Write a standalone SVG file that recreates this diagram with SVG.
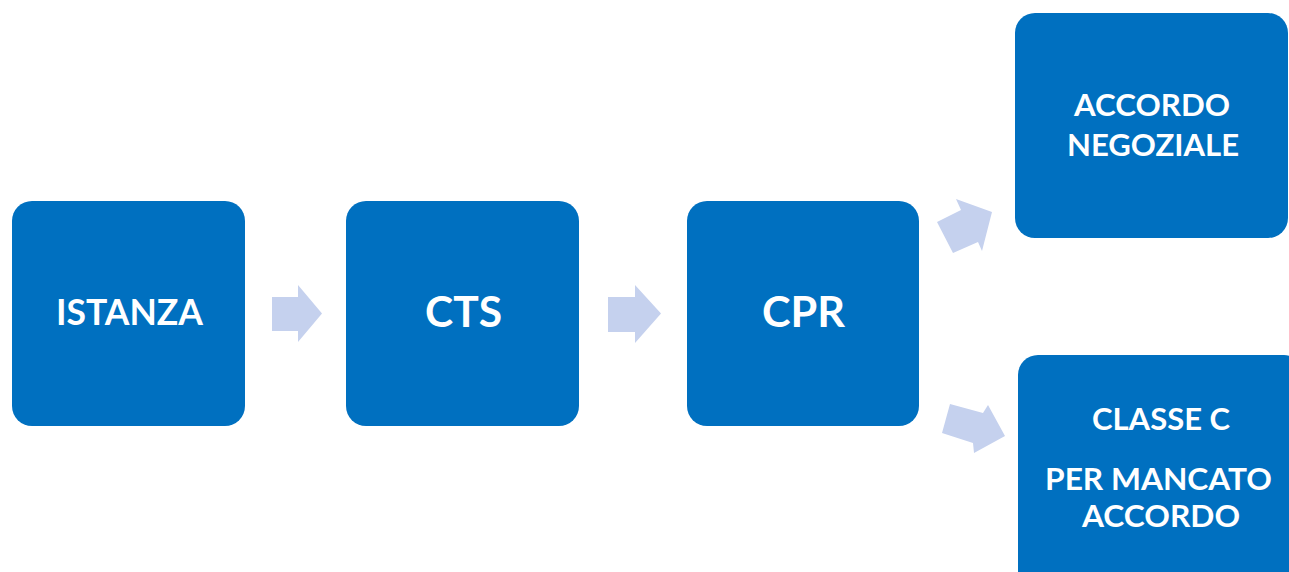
<svg xmlns="http://www.w3.org/2000/svg" width="1289" height="572" viewBox="0 0 1289 572">
<style>
.box{fill:#0070C0;}
.arr{fill:#C5D1EE;}
.t{font-family:Lato,"Open Sans","Liberation Sans",sans-serif;font-weight:bold;fill:#FFFFFF;text-anchor:middle;}
.big{font-size:37px;}
.huge{font-size:42px;}
.sm{font-size:30px;}
</style>
<rect width="1289" height="572" fill="#FFFFFF"/>
<g id="connectors">
<polygon class="arr" points="272,297 298,297 298,285 322,313.5 298,342 298,331 272,331"/>
<polygon class="arr" points="608,297 635,297 635,285 661,313.5 635,343 635,332 608,332"/>
<polygon class="arr" points="937,222 961,210 956,199 992,212 982,251 978,242 953,253"/>
<polygon class="arr" points="950,404 983,413 988,405 1005,436 974,453 973,443 942,433"/>
</g>
<g id="istanza">
<rect class="box" x="12" y="201" width="233" height="225" rx="20"/>
<text class="t big" x="129.5" y="325" textLength="147" lengthAdjust="spacingAndGlyphs">ISTANZA</text>
</g>
<g id="cts">
<rect class="box" x="346" y="201" width="233" height="225" rx="20"/>
<text class="t huge" x="463.5" y="327" textLength="77" lengthAdjust="spacingAndGlyphs">CTS</text>
</g>
<g id="cpr">
<rect class="box" x="687" y="201" width="232" height="225" rx="20"/>
<text class="t huge" x="803.5" y="327" textLength="83" lengthAdjust="spacingAndGlyphs">CPR</text>
</g>
<g id="accordo-negoziale">
<rect class="box" x="1015" y="13" width="273" height="225" rx="20"/>
<text class="t sm" x="1152" y="116" textLength="156" lengthAdjust="spacingAndGlyphs">ACCORDO</text>
<text class="t sm" x="1153" y="156" textLength="172" lengthAdjust="spacingAndGlyphs">NEGOZIALE</text>
</g>
<g id="classe-c">
<rect class="box" x="1018" y="355" width="286" height="240" rx="20"/>
<text class="t sm" x="1161" y="430" textLength="138" lengthAdjust="spacingAndGlyphs">CLASSE C</text>
<text class="t sm" x="1158.5" y="490" textLength="227" lengthAdjust="spacingAndGlyphs">PER MANCATO</text>
<text class="t sm" x="1161" y="527" textLength="158" lengthAdjust="spacingAndGlyphs">ACCORDO</text>
</g>
</svg>
